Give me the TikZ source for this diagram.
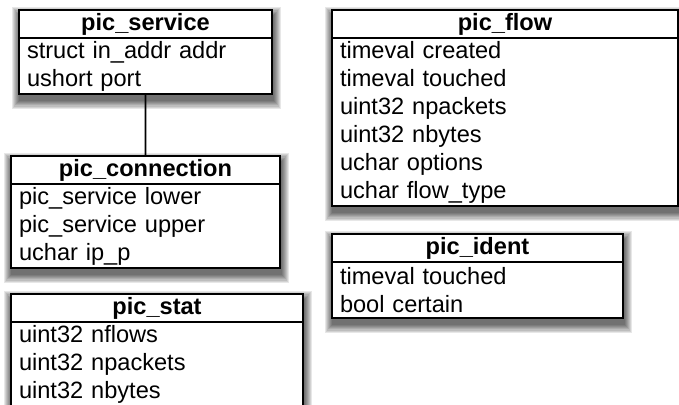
\documentclass[tikz,border=0pt]{standalone}
\usepackage{fontspec}
\setmainfont{Liberation Sans}
\usetikzlibrary{backgrounds}

\tikzset{
  classhead/.style={draw=black, line width=0.9pt, fill=white, outer sep=0pt,
      anchor=north west, inner sep=0pt, minimum height=14pt,
      font=\fontsize{11.8}{14}\selectfont\bfseries},
  classbody/.style={draw=black, line width=0.9pt, fill=white, outer sep=0pt,
      anchor=north, inner xsep=4pt, inner ysep=0pt, align=left,
      font=\fontsize{11.8}{14}\selectfont},
  shadowstep/.style={fill=black, opacity=0.095},
}

\begin{document}
\begin{tikzpicture}[x=5pt,y=5pt]
\clip (0,0) rectangle (67.9,-40.5);
% left column
\node [classhead, minimum width=126.5pt] (service) at (1.9,-1.0) {pic\_service};
\node [classbody, text width=118.5pt, minimum height=28pt] (serviceattrs) at (service.south) {struct in\_addr addr\\ushort port};
\node [classhead, minimum width=134.5pt] (connection) at (1.1,-15.6) {pic\_connection};
\node [classbody, text width=126.5pt, minimum height=42pt] (connectionattrs) at (connection.south) {pic\_service lower\\pic\_service upper\\uchar ip\_p};
\node [classhead, minimum width=146pt] (stat) at (1.1,-29.4) {pic\_stat};
\node [classbody, text width=138pt, minimum height=42pt] (statattrs) at (stat.south) {uint32 nflows\\uint32 npackets\\uint32 nbytes};
% right column
\node [classhead, minimum width=173pt] (flow) at (33.2,-1.0) {pic\_flow};
\node [classbody, text width=165pt, minimum height=84pt] (flowattrs) at (flow.south) {timeval created\\timeval touched\\uint32 npackets\\uint32 nbytes\\uchar options\\uchar flow\_type};
\node [classhead, minimum width=145.5pt] (ident) at (33.2,-23.4) {pic\_ident};
\node [classbody, text width=137.5pt, minimum height=28pt] (identattrs) at (ident.south) {timeval touched\\bool certain};
% link
\draw [black, line width=0.9pt] (serviceattrs.south) -- (connection.north);
% soft shadows behind each class
\begin{scope}[on background layer]
\fill [white] (0,0) rectangle (67.9,-40.5);
\foreach \cls in {service,connection,stat,flow,ident}
  \foreach \k in {1,...,8}
    \fill [shadowstep] ([shift={(0.5pt-\k*0.5pt,\k*0.55pt-3pt)}]\cls.north west)
      rectangle ([shift={(0.5pt+\k*0.5pt,-3pt-\k*0.55pt)}]\cls attrs.south east);
\end{scope}
\end{tikzpicture}
\end{document}
